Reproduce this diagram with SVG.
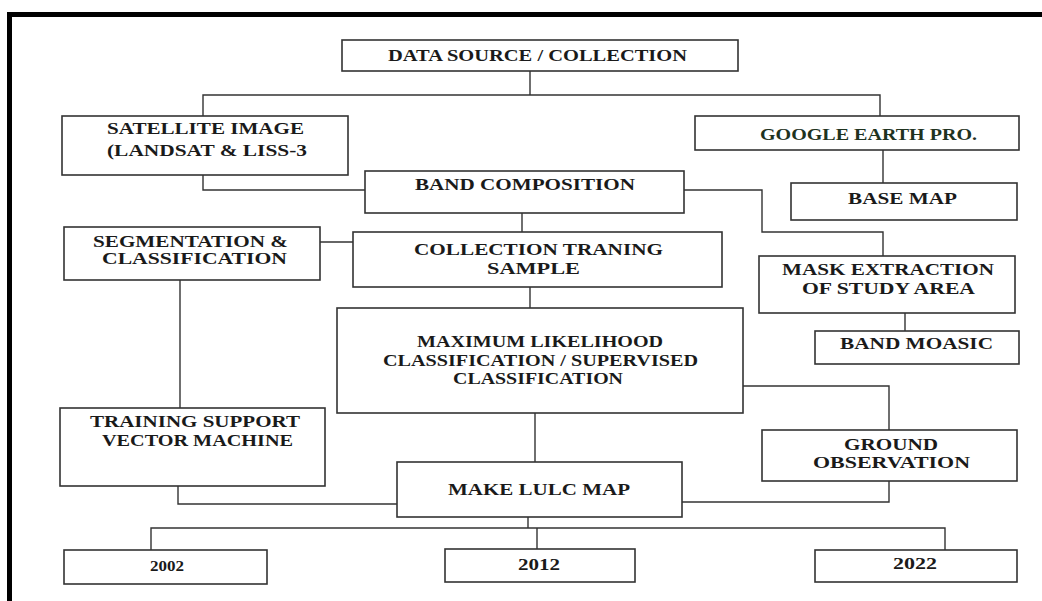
<svg xmlns="http://www.w3.org/2000/svg" width="1042" height="601" viewBox="0 0 1042 601">
<style>
.box{fill:#fff;stroke:#333;stroke-width:1.6}
.ln{fill:none;stroke:#333;stroke-width:1.4}
text{font-family:"Liberation Serif","Times New Roman",serif;font-weight:bold;font-size:17px;fill:#1a1a1a}
.g{fill:#1f331f}
.s{font-size:15px}
</style>
<rect width="1042" height="601" fill="#fff"/>
<path d="M9.5,601 V14.5 H1042" fill="none" stroke="#000" stroke-width="5"/>
<g id="connectors">
<path class="ln" d="M530,71 V95"/>
<path class="ln" d="M203,116 V95 H880 V116"/>
<path class="ln" d="M203,175 V190 H365"/>
<path class="ln" d="M684,190 H762 V232 H883 V256"/>
<path class="ln" d="M883,150 V183"/>
<path class="ln" d="M522,213 V232"/>
<path class="ln" d="M320,242 H353"/>
<path class="ln" d="M530,287 V308"/>
<path class="ln" d="M905,313 V331"/>
<path class="ln" d="M180,280 V408"/>
<path class="ln" d="M743,386 H889 V430"/>
<path class="ln" d="M889,481 V502 H682"/>
<path class="ln" d="M178,486 V504 H397"/>
<path class="ln" d="M535,413 V462"/>
<path class="ln" d="M528,517 V528"/>
<path class="ln" d="M151,550 V528 H945 V550"/>
<path class="ln" d="M537,528 V549"/>
</g>
<g id="data-source"><rect class="box" x="342" y="40" width="396" height="31"/><text x="388" y="61" textLength="299" lengthAdjust="spacingAndGlyphs">DATA SOURCE / COLLECTION</text></g>
<g id="satellite"><rect class="box" x="62" y="116" width="286" height="59"/><text x="107" y="134" textLength="197" lengthAdjust="spacingAndGlyphs">SATELLITE IMAGE</text><text x="107" y="156" textLength="200" lengthAdjust="spacingAndGlyphs">(LANDSAT &amp; LISS-3</text></g>
<g id="google-earth"><rect class="box" x="695" y="116" width="324" height="34"/><text class="g" x="760" y="140" textLength="217" lengthAdjust="spacingAndGlyphs">GOOGLE EARTH PRO.</text></g>
<g id="band-composition"><rect class="box" x="365" y="171" width="319" height="42"/><text x="415" y="190" textLength="220" lengthAdjust="spacingAndGlyphs">BAND COMPOSITION</text></g>
<g id="base-map"><rect class="box" x="791" y="183" width="226" height="37"/><text x="848" y="204" textLength="109" lengthAdjust="spacingAndGlyphs">BASE MAP</text></g>
<g id="segmentation"><rect class="box" x="64" y="227" width="256" height="53"/><text x="93" y="247" textLength="195" lengthAdjust="spacingAndGlyphs">SEGMENTATION &amp;</text><text x="102" y="264" textLength="185" lengthAdjust="spacingAndGlyphs">CLASSIFICATION</text></g>
<g id="collection-training"><rect class="box" x="353" y="232" width="369" height="55"/><text x="414" y="255" textLength="249" lengthAdjust="spacingAndGlyphs">COLLECTION TRANING</text><text x="487" y="274" textLength="93" lengthAdjust="spacingAndGlyphs">SAMPLE</text></g>
<g id="mask-extraction"><rect class="box" x="759" y="256" width="256" height="57"/><text x="782" y="275" textLength="212" lengthAdjust="spacingAndGlyphs">MASK EXTRACTION</text><text x="802" y="294" textLength="173" lengthAdjust="spacingAndGlyphs">OF STUDY AREA</text></g>
<g id="band-mosaic"><rect class="box" x="815" y="331" width="204" height="33"/><text x="840" y="349" textLength="153" lengthAdjust="spacingAndGlyphs">BAND MOASIC</text></g>
<g id="maximum-likelihood"><rect class="box" x="337" y="308" width="406" height="105"/><text x="417" y="347" textLength="246" lengthAdjust="spacingAndGlyphs">MAXIMUM LIKELIHOOD</text><text x="383" y="366" textLength="315" lengthAdjust="spacingAndGlyphs">CLASSIFICATION / SUPERVISED</text><text x="453" y="384" textLength="170" lengthAdjust="spacingAndGlyphs">CLASSIFICATION</text></g>
<g id="training-svm"><rect class="box" x="60" y="408" width="265" height="78"/><text x="90" y="427" textLength="210" lengthAdjust="spacingAndGlyphs">TRAINING SUPPORT</text><text x="102" y="446" textLength="191" lengthAdjust="spacingAndGlyphs">VECTOR MACHINE</text></g>
<g id="ground-observation"><rect class="box" x="762" y="430" width="255" height="51"/><text x="844" y="450" textLength="94" lengthAdjust="spacingAndGlyphs">GROUND</text><text x="813" y="468" textLength="157" lengthAdjust="spacingAndGlyphs">OBSERVATION</text></g>
<g id="make-lulc"><rect class="box" x="397" y="462" width="285" height="55"/><text x="448" y="495" textLength="182" lengthAdjust="spacingAndGlyphs">MAKE LULC MAP</text></g>
<g id="y2002"><rect class="box" x="64" y="550" width="203" height="34"/><text class="s" x="150" y="571" textLength="34" lengthAdjust="spacingAndGlyphs">2002</text></g>
<g id="y2012"><rect class="box" x="445" y="549" width="190" height="33"/><text x="518" y="570" textLength="42" lengthAdjust="spacingAndGlyphs">2012</text></g>
<g id="y2022"><rect class="box" x="815" y="550" width="202" height="32"/><text x="893" y="569" textLength="44" lengthAdjust="spacingAndGlyphs">2022</text></g>
</svg>
